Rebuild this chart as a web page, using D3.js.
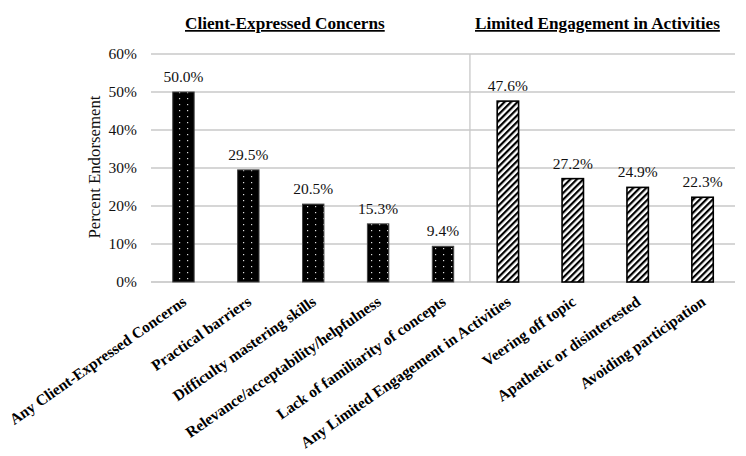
<!DOCTYPE html>
<html><head><meta charset="utf-8">
<script src="https://cdn.jsdelivr.net/npm/d3@7"></script>
<style>body{margin:0;background:#fff}svg{display:block}</style>
</head><body><svg id="c" width="746" height="456" font-family="'Liberation Serif', 'Times New Roman', 'DejaVu Serif', serif"></svg>
<script>
const categories = ["Any Client-Expressed Concerns","Practical barriers","Difficulty mastering skills","Relevance/acceptability/helpfulness","Lack of familiarity of concepts","Any Limited Engagement in Activities","Veering off topic","Apathetic or disinterested","Avoiding participation"];
const values = [50.0,29.5,20.5,15.3,9.4,47.6,27.2,24.9,22.3];
const groups = ["dots","dots","dots","dots","dots","hatch","hatch","hatch","hatch"];
const groupTitles = ["Client-Expressed Concerns","Limited Engagement in Activities"];
const yTicks = [0,10,20,30,40,50,60];

const svg = d3.select("#c");
const L=151,R=735,T=54,B=282;
const x = d3.scaleBand().domain(categories).range([L,R]).paddingInner(0.67).paddingOuter(0.335);
const y = d3.scaleLinear().domain([0,60]).range([B,T]);

const defs = svg.append("defs");
const pd = defs.append("pattern").attr("id","dots").attr("patternUnits","userSpaceOnUse").attr("width",8).attr("height",6);
pd.append("rect").attr("width",8).attr("height",6).attr("fill","#000");
pd.append("rect").attr("x",3).attr("y",2).attr("width",1.2).attr("height",1.2).attr("fill","#ddd");
const ph = defs.append("pattern").attr("id","hatch").attr("patternUnits","userSpaceOnUse").attr("width",4.6).attr("height",4.6).attr("patternTransform","rotate(45)");
ph.append("rect").attr("width",4.6).attr("height",4.6).attr("fill","#fff");
ph.append("rect").attr("x",0).attr("width",2.2).attr("height",4.6).attr("fill","#000");

svg.append("g").selectAll("line").data(yTicks.slice(1)).join("line")
  .attr("x1",L).attr("x2",R).attr("y1",d=>y(d)).attr("y2",d=>y(d))
  .attr("stroke","#c8c8c8").attr("stroke-width",1.3);
svg.append("line").attr("x1",L).attr("x2",R).attr("y1",y(0)).attr("y2",y(0)).attr("stroke","#c0c0c0").attr("stroke-width",1.5);
const sepX = x(categories[5]) - x.step()*0.42;
svg.append("line").attr("x1",sepX).attr("x2",sepX).attr("y1",y(60)).attr("y2",y(0)).attr("stroke","#c8c8c8").attr("stroke-width",1.3);

svg.append("g").selectAll("text").data(yTicks).join("text")
  .attr("x",137).attr("y",d=>y(d)).attr("dy","0.35em").attr("text-anchor","end")
  .attr("font-size",15.5).attr("fill","#111").text(d=>d+"%");
svg.append("text").attr("transform","translate(100,"+((T+B)/2-1)+") rotate(-90)")
  .attr("text-anchor","middle").attr("font-size",16.8).attr("fill","#111").text("Percent Endorsement");

svg.append("g").selectAll("rect").data(categories).join("rect")
  .attr("x",d=>x(d)).attr("width",x.bandwidth())
  .attr("y",(d,i)=>y(values[i])).attr("height",(d,i)=>y(0)-y(values[i]))
  .attr("fill",(d,i)=>"url(#"+groups[i]+")")
  .attr("stroke",(d,i)=>groups[i]==="dots"?"#444":"#000")
  .attr("stroke-width",(d,i)=>groups[i]==="dots"?1:1.6);

svg.append("g").selectAll("text").data(categories).join("text")
  .attr("x",d=>x(d)+x.bandwidth()/2).attr("y",(d,i)=>y(values[i])-10)
  .attr("text-anchor","middle").attr("font-size",15.5).attr("fill","#111")
  .text((d,i)=>values[i].toFixed(1)+"%");

svg.append("g").selectAll("text").data(categories).join("text")
  .attr("transform",d=>"translate("+(x(d)+x.bandwidth()/2+4)+",304) rotate(-35)")
  .attr("text-anchor","end").attr("font-size",15.5).attr("font-weight","bold").attr("fill","#000")
  .text(d=>d);

const titleX = [185,475];
svg.append("g").selectAll("text").data(groupTitles).join("text")
  .attr("x",(d,i)=>titleX[i]).attr("y",29).attr("font-size",17.2).attr("font-weight","bold")
  .attr("text-decoration","underline").attr("fill","#000").text(d=>d);
</script></body></html>
